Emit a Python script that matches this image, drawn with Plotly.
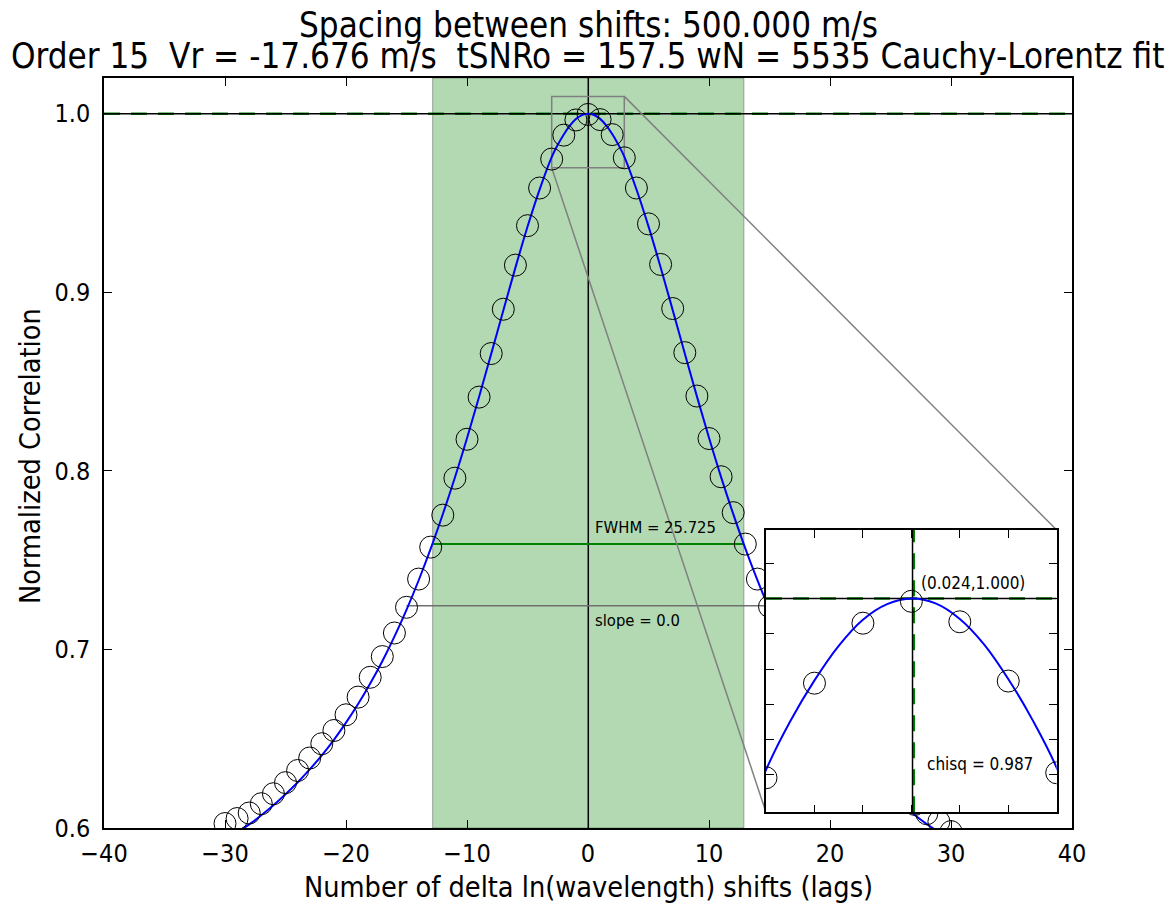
import plotly.graph_objects as go

# ---------------- data ----------------
lags = list(range(-30, 31))
corr = [0.6025, 0.6053, 0.6084, 0.6136, 0.6192, 0.6254, 0.6322, 0.6392, 0.6472, 0.6546,
        0.6634, 0.6733, 0.6844, 0.6960, 0.7092, 0.7236, 0.7394, 0.7573, 0.7752, 0.7959,
        0.8177, 0.8413, 0.8657, 0.8905, 0.9152, 0.9373, 0.9584, 0.9746, 0.9880, 0.9965,
        0.9996,
        0.9967, 0.9883, 0.9753, 0.9584, 0.9383, 0.9156, 0.8909, 0.8662, 0.8419, 0.8181,
        0.7967, 0.7766, 0.7590, 0.7394, 0.7240, 0.7090, 0.6958, 0.6842, 0.6730, 0.6630,
        0.6543, 0.6468, 0.6390, 0.6318, 0.6250, 0.6188, 0.6132, 0.6080, 0.6036, 0.5980]

fit_x = [-30, -29, -28, -27, -26, -25, -24, -23, -22, -21, -20, -19, -18, -17, -16,
         -15, -14, -13, -12, -11, -10, -9, -8, -7, -6, -5, -4,
         -3, -2.5, -2, -1.5, -1, -0.5, 0, 0.5, 1, 1.5, 2, 2.5, 3,
         4, 5, 6, 7, 8, 9, 10, 11, 12, 13, 14, 15, 16, 17, 18, 19, 20,
         21, 22, 23, 24, 25, 26, 27, 28, 29, 30]
fit_y = [0.5928, 0.5975, 0.6020, 0.6071, 0.6127, 0.6189, 0.6255, 0.6328, 0.6407, 0.6494,
         0.6590, 0.6694, 0.6809, 0.6934, 0.7072, 0.7222, 0.7386, 0.7564, 0.7757, 0.7963,
         0.8183, 0.8415, 0.8655, 0.8898, 0.9138, 0.9367, 0.9575,
         0.9757, 0.9826, 0.9884, 0.9933, 0.9970, 0.9992, 1.0000, 0.9993, 0.9971, 0.9935,
         0.9886, 0.9828, 0.9760,
         0.9577, 0.9369, 0.9140, 0.8900, 0.8657, 0.8417, 0.8185, 0.7965, 0.7759, 0.7566,
         0.7388, 0.7224, 0.7074, 0.6936, 0.6811, 0.6696, 0.6592, 0.6496, 0.6409, 0.6330,
         0.6257, 0.6191, 0.6129, 0.6073, 0.6022, 0.5977, 0.5930]

peak_lag = 0.024
peak_corr = 1.000
fit_center = 0.05
fwhm = 25.725
half_max = 0.759
slope_level = 0.7244
slope_span = [-15, 15]
chisq = 0.987
slope = 0.0

title_1 = "Spacing between shifts: 500.000 m/s"
title_2 = "Order 15  Vr = -17.676 m/s  tSNRo = 157.5 wN = 5535 Cauchy-Lorentz fit"
x_title = "Number of delta ln(wavelength) shifts (lags)"
y_title = "Normalized Correlation"

x_ticks = [-40, -30, -20, -10, 0, 10, 20, 30, 40]
x_ticktext = ["\u221240", "\u221230", "\u221220", "\u221210", "0", "10", "20", "30", "40"]
y_ticks = [0.6, 0.7, 0.8, 0.9, 1.0]
y_ticktext = ["0.6", "0.7", "0.8", "0.9", "1.0"]

main_xr = [-40, 40]
main_yr = [0.6, 1.02]
ins_xr = [-3.0, 3.0]
ins_yr = [0.9697, 1.0097]
ins_xticks = [-2, -1, 0, 1, 2]
ins_yticks = [0.975, 0.98, 0.985, 0.99, 0.995, 1.0, 1.005]

# ---------------- layout constants ----------------
# the page body has an 8px margin, so the figure is drawn 8px smaller/shifted
W, H = 1167, 897
ML, MR, MT, MB = 96, 103, 70, 77
PLOT_W, PLOT_H = W - ML - MR, H - MT - MB
ins_dx = [0.6839, 0.9842]
ins_dy = [0.0209, 0.3973]

FONT = "DejaVu Sans Condensed, DejaVu Sans, sans-serif"
GREEN = "#008000"
GREY = "#808080"


def py_from_top(px_from_plot_top):
    return 1 - px_from_plot_top / PLOT_H


fig = go.Figure()

band_lo = peak_lag - fwhm / 2
band_hi = peak_lag + fwhm / 2

fig.add_shape(type="rect", xref="x", yref="y", x0=band_lo, x1=band_hi,
              y0=main_yr[0], y1=main_yr[1], fillcolor="rgba(0,128,0,0.3)",
              line=dict(color="rgba(0,0,0,0.3)", width=1), layer="below")


def add_lines(xa, ya, xr, yr, green_v):
    fig.add_trace(go.Scatter(x=xr, y=[peak_corr, peak_corr], mode="lines",
                             line=dict(color=GREEN, width=2.5, dash="16px,11px"),
                             xaxis=xa, yaxis=ya, hoverinfo="skip"))
    if green_v:
        fig.add_trace(go.Scatter(x=[fit_center, fit_center], y=yr, mode="lines",
                                 line=dict(color=GREEN, width=2.5, dash="16px,11px"),
                                 xaxis=xa, yaxis=ya, hoverinfo="skip"))
    fig.add_trace(go.Scatter(x=xr, y=[peak_corr, peak_corr], mode="lines",
                             line=dict(color="black", width=1.5),
                             xaxis=xa, yaxis=ya, hoverinfo="skip"))
    fig.add_trace(go.Scatter(x=[peak_lag, peak_lag], y=yr, mode="lines",
                             line=dict(color="black", width=1.5),
                             xaxis=xa, yaxis=ya, hoverinfo="skip"))


# ---- main axes content ----
add_lines("x", "y", main_xr, main_yr, False)
fig.add_trace(go.Scatter(x=[band_lo, band_hi], y=[half_max, half_max], mode="lines",
                         line=dict(color=GREEN, width=2), hoverinfo="skip"))
fig.add_trace(go.Scatter(x=slope_span, y=[slope_level, slope_level], mode="lines",
                         line=dict(color="#707070", width=1.5), hoverinfo="skip"))

# zoom rectangle and connectors
fig.add_trace(go.Scatter(x=[ins_xr[0], ins_xr[1], ins_xr[1], ins_xr[0], ins_xr[0]],
                         y=[ins_yr[0], ins_yr[0], ins_yr[1], ins_yr[1], ins_yr[0]],
                         mode="lines", line=dict(color=GREY, width=1.5), hoverinfo="skip"))


def paper_to_main(px, py):
    return (main_xr[0] + px * (main_xr[1] - main_xr[0]),
            main_yr[0] + py * (main_yr[1] - main_yr[0]))


tr = paper_to_main(ins_dx[1], ins_dy[1])
bl = paper_to_main(ins_dx[0], ins_dy[0])
fig.add_trace(go.Scatter(x=[ins_xr[1], tr[0]], y=[ins_yr[1], tr[1]], mode="lines",
                         line=dict(color=GREY, width=1.5), hoverinfo="skip"))
fig.add_trace(go.Scatter(x=[ins_xr[0], bl[0]], y=[ins_yr[0], bl[1]], mode="lines",
                         line=dict(color=GREY, width=1.5), hoverinfo="skip"))

fig.add_trace(go.Scatter(x=fit_x, y=fit_y, mode="lines", line=dict(color="#0000ff", width=2,
                         shape="spline"), hoverinfo="skip"))
fig.add_trace(go.Scatter(x=lags, y=corr, mode="markers",
                         marker=dict(symbol="circle", size=22, color="rgba(0,0,0,0)",
                                     line=dict(color="black", width=1)), hoverinfo="skip"))

# ---- inset axes content ----
add_lines("x2", "y2", ins_xr, ins_yr, True)
fig.add_trace(go.Scatter(x=fit_x, y=fit_y, mode="lines", line=dict(color="#0000ff", width=2,
                         shape="spline"), xaxis="x2", yaxis="y2", hoverinfo="skip"))
fig.add_trace(go.Scatter(x=lags, y=corr, mode="markers", xaxis="x2", yaxis="y2",
                         marker=dict(symbol="circle", size=22, color="rgba(0,0,0,0)",
                                     line=dict(color="black", width=1)), hoverinfo="skip"))

axis_common = dict(showgrid=False, zeroline=False, ticks="inside", mirror="ticks",
                   showline=True, linecolor="black", linewidth=1.5, tickcolor="black",
                   tickwidth=1, ticklen=8)

fig.update_layout(
    width=W, height=H, showlegend=False,
    paper_bgcolor="white", plot_bgcolor="white",
    margin=dict(l=ML, r=MR, t=MT, b=MB),
    xaxis=dict(range=main_xr, tickvals=x_ticks, ticktext=x_ticktext,
               tickfont=dict(family=FONT, size=25, color="black"),
               ticklabelstandoff=2, **axis_common),
    yaxis=dict(range=main_yr, tickvals=y_ticks, ticktext=y_ticktext,
               tickfont=dict(family=FONT, size=25, color="black"),
               ticklabelstandoff=7, **axis_common),
    xaxis2=dict(domain=ins_dx, anchor="y2", range=ins_xr, tickvals=ins_xticks,
                showticklabels=False, **axis_common),
    yaxis2=dict(domain=ins_dy, anchor="x2", range=ins_yr, tickvals=ins_yticks,
                showticklabels=False, **axis_common),
)

# vertical positions below are pixels measured from the plot-area top
ann = [
    dict(text=title_1, xref="paper", yref="paper", x=0.5, y=py_from_top(25 - 78),
         showarrow=False, xanchor="center", yanchor="middle",
         font=dict(family=FONT, size=34.7, color="black")),
    dict(text=title_2, xref="paper", yref="paper", x=0.5, y=py_from_top(56 - 78),
         showarrow=False, xanchor="center", yanchor="middle",
         font=dict(family=FONT, size=34.7, color="black")),
    dict(text=x_title, xref="paper", yref="paper", x=0.5, y=py_from_top(887 - 78),
         showarrow=False, xanchor="center", yanchor="middle",
         font=dict(family=FONT, size=28.6, color="black")),
    dict(text=y_title, xref="paper", yref="paper", x=(30 - 104) / PLOT_W, y=py_from_top(456 - 78),
         showarrow=False, xanchor="center", yanchor="middle", textangle=-90,
         font=dict(family=FONT, size=28.6, color="black")),
    dict(text="FWHM = %.3f" % fwhm, xref="x", yref="y", x=0.45, y=0.7683,
         showarrow=False, xanchor="left", yanchor="middle",
         font=dict(family=FONT, size=16.5, color="black")),
    dict(text="slope = %.1f" % slope, xref="x", yref="y", x=0.45, y=0.7162,
         showarrow=False, xanchor="left", yanchor="middle",
         font=dict(family=FONT, size=16.5, color="black")),
    dict(text="(%.3f,%.3f)" % (peak_lag, peak_corr), xref="x2", yref="y2", x=0.164, y=1.0022,
         showarrow=False, xanchor="left", yanchor="middle",
         font=dict(family=FONT, size=17, color="black")),
    dict(text="chisq = %.3f" % chisq, xref="x2", yref="y2", x=0.28, y=0.9765,
         showarrow=False, xanchor="left", yanchor="middle",
         font=dict(family=FONT, size=17, color="black")),
]
fig.update_layout(annotations=ann)

fig.write_html("out.html")
